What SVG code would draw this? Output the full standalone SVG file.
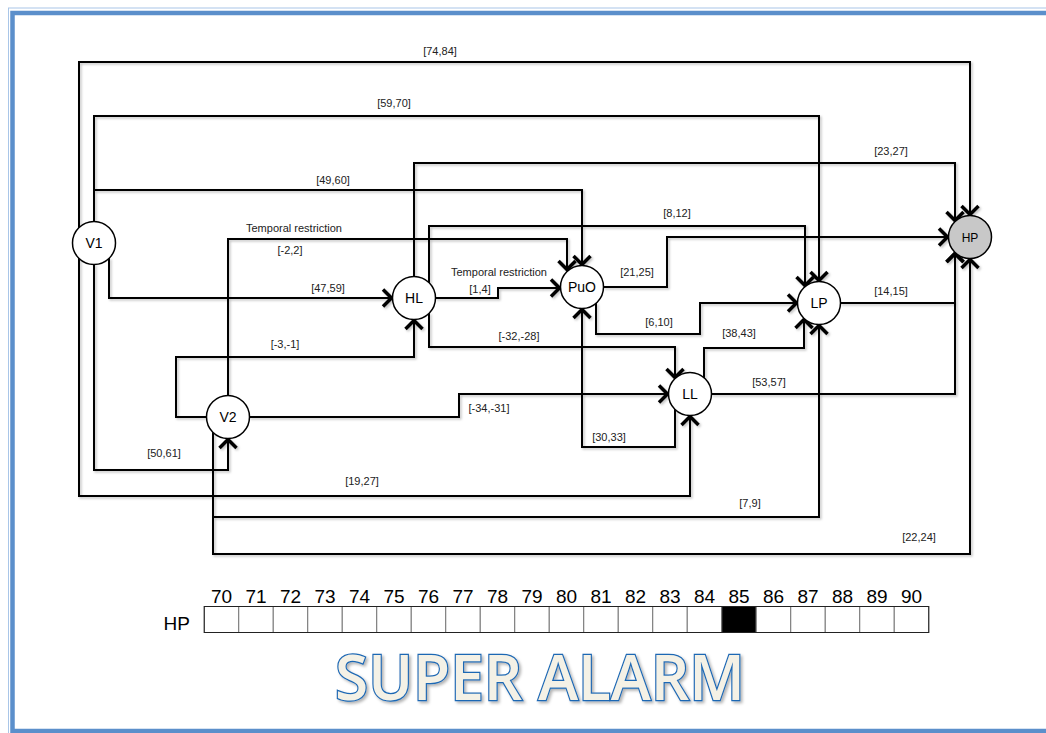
<svg xmlns="http://www.w3.org/2000/svg" width="1046" height="733" viewBox="0 0 1046 733">
<defs>
<style>
.e{fill:none;stroke:#000;stroke-width:2;marker-end:url(#ah)}
.n{fill:#fff;stroke:#000;stroke-width:1.5}
.nt{font-family:"Liberation Sans",Arial,sans-serif;font-size:14px;fill:#000;text-anchor:middle}
.l{font-family:"Liberation Sans",Arial,sans-serif;font-size:11px;fill:#222;text-anchor:middle}
.num{font-family:"Liberation Sans",Arial,sans-serif;font-size:19px;fill:#000;text-anchor:middle}
.c{fill:#fff;stroke:#777;stroke-width:1}
</style>
<marker id="ah" viewBox="-14 -11 16 22" markerWidth="16" markerHeight="22" refX="0" refY="0" orient="auto" markerUnits="userSpaceOnUse">
<path d="M-10,-8.5 L-1.5,0 L-10,8.5" fill="none" stroke="#000" stroke-width="3.5"/>
</marker>
<filter id="sh" x="-5%" y="-5%" width="110%" height="110%">
<feDropShadow dx="1.5" dy="1.5" stdDeviation="1" flood-color="#000" flood-opacity="0.25"/>
</filter>
<filter id="tsh" x="-5%" y="-10%" width="110%" height="130%">
<feDropShadow dx="2" dy="2" stdDeviation="1.5" flood-color="#000" flood-opacity="0.3"/>
</filter>
</defs>
<rect width="1046" height="733" fill="#fff"/>
<rect x="8.5" y="8" width="1060" height="730" fill="none" stroke="#a9c6e8" stroke-width="1"/>
<rect x="12.5" y="13" width="1060" height="718" fill="none" stroke="#5b8fcb" stroke-width="4.5"/>

<g id="connectors" filter="url(#sh)">
<path class="e" d="M79,228 V62 H970 V216"/>
<path class="e" d="M94,222 V116 H819 V282"/>
<path class="e" d="M94,222 V190 H582 V266"/>
<path class="e" d="M109,258 V298 H393"/>
<path class="e" d="M94,264 V470 H228 V438"/>
<path class="e" d="M79,258 V496 H690 V415"/>
<path class="e" d="M228,396 V239 H567 V271"/>
<path class="e" d="M207,417 H176 V357 H414 V319"/>
<path class="e" d="M249,417 H459 V394 H669"/>
<path class="e" d="M213,432 V517 H819 V324"/>
<path class="e" d="M213,432 V554 H970 V258"/>
<path class="e" d="M435,298 H498 V288 H561"/>
<path class="e" d="M414,277 V163 H955 V222"/>
<path class="e" d="M429,283 V226 H805 V287"/>
<path class="e" d="M429,313 V347 H675 V379"/>
<path class="e" d="M603,287 H667 V237 H949"/>
<path class="e" d="M596,303 V334 H700 V303 H798"/>
<path class="e" d="M675,409 V447 H582 V308"/>
<path class="e" d="M704,379 V348 H804 V318"/>
<path class="e" d="M711,394 H955 V252"/>
<path class="e" d="M840,303 H955 V252"/>
</g>

<g id="edge-labels">
<text class="l" x="440" y="55">[74,84]</text>
<text class="l" x="394" y="107">[59,70]</text>
<text class="l" x="333" y="184">[49,60]</text>
<text class="l" x="294" y="232">Temporal restriction</text>
<text class="l" x="290" y="254">[-2,2]</text>
<text class="l" x="328" y="292">[47,59]</text>
<text class="l" x="285" y="348">[-3,-1]</text>
<text class="l" x="164" y="457">[50,61]</text>
<text class="l" x="499" y="276">Temporal restriction</text>
<text class="l" x="480" y="293">[1,4]</text>
<text class="l" x="637" y="276">[21,25]</text>
<text class="l" x="659" y="326">[6,10]</text>
<text class="l" x="519" y="340">[-32,-28]</text>
<text class="l" x="489" y="412">[-34,-31]</text>
<text class="l" x="609" y="441">[30,33]</text>
<text class="l" x="362" y="485">[19,27]</text>
<text class="l" x="677" y="217">[8,12]</text>
<text class="l" x="891" y="155">[23,27]</text>
<text class="l" x="891" y="295">[14,15]</text>
<text class="l" x="739" y="337">[38,43]</text>
<text class="l" x="769" y="386">[53,57]</text>
<text class="l" x="750" y="507">[7,9]</text>
<text class="l" x="919" y="541">[22,24]</text>
</g>

<g id="V1"><circle class="n" cx="94" cy="243" r="21.5"/><text class="nt" x="94" y="248">V1</text></g>
<g id="V2"><circle class="n" cx="228" cy="417" r="21.5"/><text class="nt" x="228" y="422">V2</text></g>
<g id="HL"><circle class="n" cx="414" cy="298" r="21.5"/><text class="nt" x="414" y="303">HL</text></g>
<g id="PuO"><circle class="n" cx="582" cy="287" r="21.5"/><text class="nt" x="582" y="292">PuO</text></g>
<g id="LL"><circle class="n" cx="690" cy="394" r="21.5"/><text class="nt" x="690" y="399">LL</text></g>
<g id="LP"><circle class="n" cx="819" cy="303" r="21.5"/><text class="nt" x="819" y="308">LP</text></g>
<g id="HP"><circle class="n" cx="970" cy="237" r="21.5" style="fill:#c8c8c8"/><text class="nt" x="970" y="241.5" style="font-size:12px">HP</text></g>

<g id="timeline">
<text class="num" x="190" y="630" style="text-anchor:end">HP</text>
<rect class="c" x="204.25" y="606.5" width="34.5" height="26"/>
<rect class="c" x="238.75" y="606.5" width="34.5" height="26"/>
<rect class="c" x="273.25" y="606.5" width="34.5" height="26"/>
<rect class="c" x="307.75" y="606.5" width="34.5" height="26"/>
<rect class="c" x="342.25" y="606.5" width="34.5" height="26"/>
<rect class="c" x="376.75" y="606.5" width="34.5" height="26"/>
<rect class="c" x="411.25" y="606.5" width="34.5" height="26"/>
<rect class="c" x="445.75" y="606.5" width="34.5" height="26"/>
<rect class="c" x="480.25" y="606.5" width="34.5" height="26"/>
<rect class="c" x="514.75" y="606.5" width="34.5" height="26"/>
<rect class="c" x="549.25" y="606.5" width="34.5" height="26"/>
<rect class="c" x="583.75" y="606.5" width="34.5" height="26"/>
<rect class="c" x="618.25" y="606.5" width="34.5" height="26"/>
<rect class="c" x="652.75" y="606.5" width="34.5" height="26"/>
<rect class="c" x="687.25" y="606.5" width="34.5" height="26"/>
<rect class="c" x="721.75" y="606.5" width="34.5" height="26" style="fill:#000"/>
<rect class="c" x="756.25" y="606.5" width="34.5" height="26"/>
<rect class="c" x="790.75" y="606.5" width="34.5" height="26"/>
<rect class="c" x="825.25" y="606.5" width="34.5" height="26"/>
<rect class="c" x="859.75" y="606.5" width="34.5" height="26"/>
<rect class="c" x="894.25" y="606.5" width="34.5" height="26"/>
<rect x="204.25" y="606.5" width="724.5" height="26" fill="none" stroke="#222" stroke-width="1"/>
<text class="num" x="221.5" y="603">70</text>
<text class="num" x="256" y="603">71</text>
<text class="num" x="290.5" y="603">72</text>
<text class="num" x="325" y="603">73</text>
<text class="num" x="359.5" y="603">74</text>
<text class="num" x="394" y="603">75</text>
<text class="num" x="428.5" y="603">76</text>
<text class="num" x="463" y="603">77</text>
<text class="num" x="497.5" y="603">78</text>
<text class="num" x="532" y="603">79</text>
<text class="num" x="566.5" y="603">80</text>
<text class="num" x="601" y="603">81</text>
<text class="num" x="635.5" y="603">82</text>
<text class="num" x="670" y="603">83</text>
<text class="num" x="704.5" y="603">84</text>
<text class="num" x="739" y="603">85</text>
<text class="num" x="773.5" y="603">86</text>
<text class="num" x="808" y="603">87</text>
<text class="num" x="842.5" y="603">88</text>
<text class="num" x="877" y="603">89</text>
<text class="num" x="911.5" y="603">90</text>
</g>

<g id="title">
<text x="335" y="700" textLength="410" lengthAdjust="spacingAndGlyphs" filter="url(#tsh)" style="font-family:'Open Sans','Liberation Sans',sans-serif;font-size:64px;font-weight:600;fill:#f4f1e6;stroke:#1e68b4;stroke-width:2.5;paint-order:stroke">SUPER ALARM</text>
</g>
</svg>
